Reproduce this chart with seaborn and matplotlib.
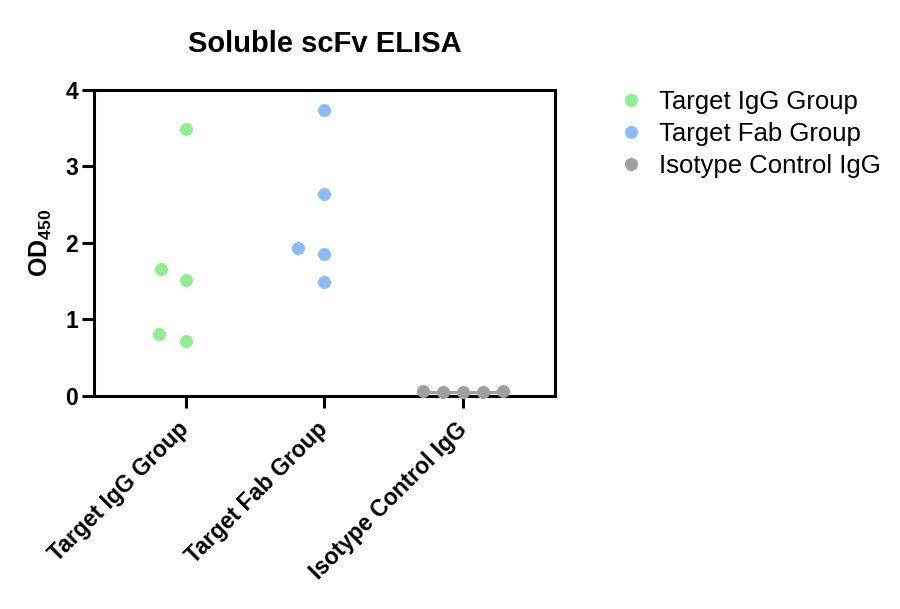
import numpy as np
import pandas as pd
import matplotlib
matplotlib.use("Agg")
import matplotlib.pyplot as plt
from matplotlib.lines import Line2D
import seaborn as sns

# ---- data ----
categories = ["Target IgG Group", "Target Fab Group", "Isotype Control IgG"]
igg_values = [3.49, 1.51, 1.66, 0.72, 0.81]
fab_values = [3.74, 2.64, 1.94, 1.85, 1.49]
isotype_values = [0.05, 0.065, 0.05, 0.06, 0.05]
yticks = [0, 1, 2, 3, 4]
title = "Soluble scFv ELISA"
ylabel = r"$\mathbf{OD}_{\mathbf{450}}$"

# ---- style ----
colors = ["#90EE90", "#8DBBF7", "#A0A0A2"]
swarm_sizes = [18.7, 18.7, 13.7]   # spacing used for the swarm layout
marker_size = 9.4                   # drawn marker size

sns.set_theme(style="ticks")
plt.rcParams["font.family"] = ["Liberation Sans", "DejaVu Sans"]
plt.rcParams["text.color"] = "black"
plt.rcParams["axes.labelcolor"] = "black"
plt.rcParams["xtick.color"] = "black"
plt.rcParams["ytick.color"] = "black"
plt.rcParams["mathtext.fontset"] = "custom"
plt.rcParams["mathtext.rm"] = "Liberation Sans"
plt.rcParams["mathtext.it"] = "Liberation Sans:italic"
plt.rcParams["mathtext.bf"] = "Liberation Sans:bold"
plt.rcParams["mathtext.sf"] = "Liberation Sans"

df = pd.DataFrame({
    "group": np.repeat(categories, [len(igg_values), len(fab_values), len(isotype_values)]),
    "od": igg_values + fab_values + isotype_values,
})

fig = plt.figure(figsize=(9, 6.09), dpi=100)
ax = fig.add_axes([0.1044, 0.3498, 0.5122, 0.5025])

group_colls = []
for cat, col, s in zip(categories, colors, swarm_sizes):
    n0 = len(ax.collections)
    sns.swarmplot(data=df[df["group"] == cat], x="group", y="od", order=categories,
                  color=col, size=s, linewidth=0, ax=ax)
    new = [c for c in ax.collections[n0:] if len(c.get_offsets()) > 0]
    group_colls.append(new[0])

ax.set_xlim(-0.66, 2.66)
ax.set_ylim(0, 4)
fig.canvas.draw()

# freeze swarm layout, then shrink markers to their drawn size
for coll in ax.collections:
    if "draw" in coll.__dict__:
        del coll.draw
    coll.set_sizes([marker_size ** 2])
    coll.set_clip_on(False)
    coll.set_zorder(3)

# mean line for isotype group
iso_offsets = np.asarray(group_colls[2].get_offsets())
ax.hlines(np.mean(isotype_values), iso_offsets[:, 0].min(), iso_offsets[:, 0].max(),
          color=colors[2], lw=2.2, zorder=2.5, clip_on=False)

ax.set_xlim(-0.66, 2.66)
ax.set_ylim(0, 4)
ax.set_yticks(yticks)
ax.set_yticklabels([str(t) for t in yticks], fontsize=16.5, fontweight="bold")
ax.set_xticks(range(len(categories)))
ax.set_xticklabels(categories, rotation=45, ha="right", va="center",
                   rotation_mode="anchor", fontsize=16.5, fontweight="bold")

for sp in ax.spines.values():
    sp.set_visible(True)
    sp.set_linewidth(2.2)
    sp.set_color("black")
ax.tick_params(axis="both", width=2.2, length=8.5, color="black", labelcolor="black")
ax.tick_params(axis="y", pad=3)
ax.tick_params(axis="x", pad=13)

ax.set_xlabel("")
ax.set_ylabel(ylabel, fontsize=18, labelpad=8, color="black")
ax.set_title(title, fontsize=21, fontweight="bold", pad=27, color="black")

handles = [Line2D([], [], marker="o", linestyle="", markersize=marker_size,
                  markerfacecolor=c, markeredgewidth=0) for c in colors]
leg = fig.legend(handles, categories, loc="upper left", bbox_to_anchor=(0.687, 0.853),
                 frameon=False, fontsize=18.5, handlelength=1.0, handletextpad=0.6,
                 labelspacing=0.33, borderpad=0, borderaxespad=0)
for t in leg.get_texts():
    t.set_color("black")

fig.savefig("out.png", dpi=100)
